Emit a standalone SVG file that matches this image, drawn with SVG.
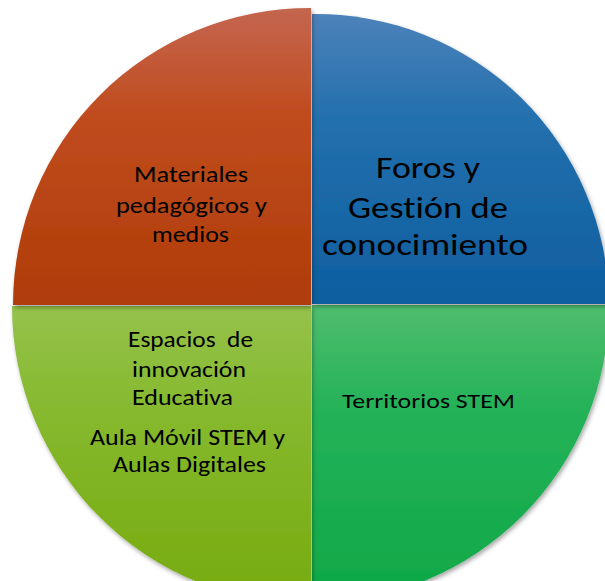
<svg xmlns="http://www.w3.org/2000/svg" width="605" height="581" viewBox="0 0 605 581">
<defs>
<linearGradient id="gRed" gradientUnits="userSpaceOnUse" x1="0" y1="8" x2="0" y2="305">
<stop offset="0" stop-color="#c4664f"/><stop offset="0.35" stop-color="#c04c1f"/><stop offset="1" stop-color="#af3c08"/>
</linearGradient>
<linearGradient id="gBlue" gradientUnits="userSpaceOnUse" x1="0" y1="14" x2="0" y2="304">
<stop offset="0" stop-color="#4c82b9"/><stop offset="0.35" stop-color="#2470ae"/><stop offset="1" stop-color="#0d5e9f"/>
</linearGradient>
<linearGradient id="gGreen" gradientUnits="userSpaceOnUse" x1="0" y1="305" x2="0" y2="600">
<stop offset="0" stop-color="#4fbd6e"/><stop offset="0.35" stop-color="#25b258"/><stop offset="1" stop-color="#0ea848"/>
</linearGradient>
<linearGradient id="gLime" gradientUnits="userSpaceOnUse" x1="0" y1="306" x2="0" y2="600">
<stop offset="0" stop-color="#95c24b"/><stop offset="0.35" stop-color="#86b92f"/><stop offset="1" stop-color="#76ab0e"/>
</linearGradient>
<filter id="sh" x="-10%" y="-10%" width="120%" height="120%">
<feDropShadow dx="1.5" dy="2.5" stdDeviation="2" flood-color="#000" flood-opacity="0.35"/>
</filter>
</defs>
<style>
.t{font-family:Carlito,Lato,"Liberation Sans",sans-serif;fill:#000;font-variant-ligatures:none;font-feature-settings:"liga" 0;}
.s21{font-size:22px;}
.s29{font-size:30px;}
.s20{font-size:21px;}
</style>
<g id="connectors"/>
<g id="node-territorios">
<path d="M312,305 L609,305 A297,297 0 0 1 312,603 Z" fill="url(#gGreen)" filter="url(#sh)"/>
</g>
<g id="node-espacios">
<path d="M311,306 L311,604 A298,298 0 0 1 12,306 Z" fill="url(#gLime)" filter="url(#sh)"/>
</g>
<g id="node-foros">
<path d="M312,304 L312,14.03 A293,293 0 0 1 608.98,304 Z" fill="url(#gBlue)" filter="url(#sh)"/>
</g>
<g id="node-materiales">
<path d="M311,305 L311,8 A297,297 0 0 0 13,305 Z" fill="url(#gRed)" filter="url(#sh)"/>
</g>
<g id="labels-materiales">
<text class="t s21" x="134" y="182" textLength="114" lengthAdjust="spacingAndGlyphs">Materiales</text>
<text class="t s21" x="116" y="213" textLength="151" lengthAdjust="spacingAndGlyphs">pedagógicos y</text>
<text class="t s21" x="152" y="242" textLength="77" lengthAdjust="spacingAndGlyphs">medios</text>
</g>
<g id="labels-foros">
<text class="t s29" x="376" y="178" textLength="104" lengthAdjust="spacingAndGlyphs">Foros y</text>
<text class="t s29" x="348" y="218" textLength="160" lengthAdjust="spacingAndGlyphs">Gestión de</text>
<text class="t s29" x="322" y="255" textLength="206" lengthAdjust="spacingAndGlyphs">conocimiento</text>
</g>
<g id="labels-espacios">
<text class="t s21" x="128" y="347" textLength="125" lengthAdjust="spacingAndGlyphs" xml:space="preserve">Espacios  de</text>
<text class="t s21" x="132" y="377" textLength="114" lengthAdjust="spacingAndGlyphs">innovación</text>
<text class="t s21" x="132" y="405" textLength="101" lengthAdjust="spacingAndGlyphs">Educativa</text>
<text class="t s21" x="90" y="445" textLength="195" lengthAdjust="spacingAndGlyphs">Aula Móvil STEM y</text>
<text class="t s21" x="113" y="472" textLength="153" lengthAdjust="spacingAndGlyphs">Aulas Digitales</text>
</g>
<g id="labels-territorios">
<text class="t s20" x="342" y="408" textLength="173" lengthAdjust="spacingAndGlyphs">Territorios STEM</text>
</g>
</svg>
